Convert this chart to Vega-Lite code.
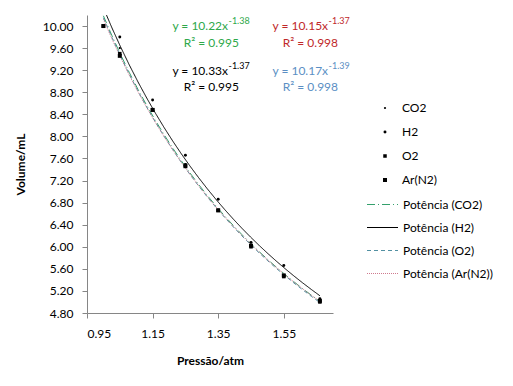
{
  "$schema": "https://vega.github.io/schema/vega-lite/v6.json",
  "width": 246,
  "height": 298,
  "autosize": {"type": "none"},
  "padding": {"left": 87, "top": 15, "right": 180, "bottom": 73},
  "background": "white",
  "config": {
    "view": {"stroke": null},
    "font": "Lato",
    "axis": {
      "grid": false,
      "domainColor": "#868686",
      "tickColor": "#868686",
      "tickSize": 5,
      "labelFont": "Lato",
      "labelFontSize": 12,
      "labelColor": "#000000",
      "labelOverlap": false,
      "titleFont": "Lato",
      "titleFontSize": 12,
      "titleFontWeight": "bold",
      "titleColor": "#000000"
    },
    "legend": {
      "labelFont": "Lato",
      "labelFontSize": 12,
      "labelColor": "#000000",
      "padding": 0
    }
  },
  "datasets": {
    "obs": [
      {"gas": "CO2", "fit": "Potência (CO2)", "pressure": 1.00, "volume": 10.00},
      {"gas": "CO2", "fit": "Potência (CO2)", "pressure": 1.05, "volume": 9.60},
      {"gas": "CO2", "fit": "Potência (CO2)", "pressure": 1.15, "volume": 8.50},
      {"gas": "CO2", "fit": "Potência (CO2)", "pressure": 1.25, "volume": 7.50},
      {"gas": "CO2", "fit": "Potência (CO2)", "pressure": 1.35, "volume": 6.66},
      {"gas": "CO2", "fit": "Potência (CO2)", "pressure": 1.45, "volume": 6.04},
      {"gas": "CO2", "fit": "Potência (CO2)", "pressure": 1.55, "volume": 5.46},
      {"gas": "CO2", "fit": "Potência (CO2)", "pressure": 1.66, "volume": 5.04},
      {"gas": "H2", "fit": "Potência (H2)", "pressure": 1.00, "volume": 10.00},
      {"gas": "H2", "fit": "Potência (H2)", "pressure": 1.05, "volume": 9.80},
      {"gas": "H2", "fit": "Potência (H2)", "pressure": 1.15, "volume": 8.66},
      {"gas": "H2", "fit": "Potência (H2)", "pressure": 1.25, "volume": 7.66},
      {"gas": "H2", "fit": "Potência (H2)", "pressure": 1.35, "volume": 6.86},
      {"gas": "H2", "fit": "Potência (H2)", "pressure": 1.45, "volume": 6.08},
      {"gas": "H2", "fit": "Potência (H2)", "pressure": 1.55, "volume": 5.66},
      {"gas": "H2", "fit": "Potência (H2)", "pressure": 1.66, "volume": 5.06},
      {"gas": "O2", "fit": "Potência (O2)", "pressure": 1.00, "volume": 10.00},
      {"gas": "O2", "fit": "Potência (O2)", "pressure": 1.05, "volume": 9.50},
      {"gas": "O2", "fit": "Potência (O2)", "pressure": 1.15, "volume": 8.48},
      {"gas": "O2", "fit": "Potência (O2)", "pressure": 1.25, "volume": 7.48},
      {"gas": "O2", "fit": "Potência (O2)", "pressure": 1.35, "volume": 6.66},
      {"gas": "O2", "fit": "Potência (O2)", "pressure": 1.45, "volume": 6.00},
      {"gas": "O2", "fit": "Potência (O2)", "pressure": 1.55, "volume": 5.46},
      {"gas": "O2", "fit": "Potência (O2)", "pressure": 1.66, "volume": 5.00},
      {"gas": "Ar(N2)", "fit": "Potência (Ar(N2))", "pressure": 1.00, "volume": 10.00},
      {"gas": "Ar(N2)", "fit": "Potência (Ar(N2))", "pressure": 1.05, "volume": 9.46},
      {"gas": "Ar(N2)", "fit": "Potência (Ar(N2))", "pressure": 1.15, "volume": 8.48},
      {"gas": "Ar(N2)", "fit": "Potência (Ar(N2))", "pressure": 1.25, "volume": 7.46},
      {"gas": "Ar(N2)", "fit": "Potência (Ar(N2))", "pressure": 1.35, "volume": 6.66},
      {"gas": "Ar(N2)", "fit": "Potência (Ar(N2))", "pressure": 1.45, "volume": 6.02},
      {"gas": "Ar(N2)", "fit": "Potência (Ar(N2))", "pressure": 1.55, "volume": 5.48},
      {"gas": "Ar(N2)", "fit": "Potência (Ar(N2))", "pressure": 1.66, "volume": 5.02}
    ],
    "notes": [
      {"series": "eq CO2", "part": "main", "text": "y = 10.22x", "pressure": 1.380, "volume": 10.00},
      {"series": "eq CO2", "part": "exp", "text": "-1.38", "pressure": 1.380, "volume": 10.00},
      {"series": "eq CO2", "part": "r2", "text": "R² = 0.995", "pressure": 1.329, "volume": 9.69},
      {"series": "eq Ar(N2)", "part": "main", "text": "y = 10.15x", "pressure": 1.685, "volume": 10.00},
      {"series": "eq Ar(N2)", "part": "exp", "text": "-1.37", "pressure": 1.685, "volume": 10.00},
      {"series": "eq Ar(N2)", "part": "r2", "text": "R² = 0.998", "pressure": 1.631, "volume": 9.69},
      {"series": "eq H2", "part": "main", "text": "y = 10.33x", "pressure": 1.380, "volume": 9.18},
      {"series": "eq H2", "part": "exp", "text": "-1.37", "pressure": 1.380, "volume": 9.18},
      {"series": "eq H2", "part": "r2", "text": "R² = 0.995", "pressure": 1.329, "volume": 8.90},
      {"series": "eq O2", "part": "main", "text": "y = 10.17x", "pressure": 1.685, "volume": 9.18},
      {"series": "eq O2", "part": "exp", "text": "-1.39", "pressure": 1.685, "volume": 9.18},
      {"series": "eq O2", "part": "r2", "text": "R² = 0.998", "pressure": 1.631, "volume": 8.90}
    ]
  },
  "encoding": {
    "x": {
      "field": "pressure", "type": "quantitative",
      "scale": {"domain": [0.95, 1.70], "nice": false, "zero": false},
      "axis": {"values": [0.95, 1.15, 1.35, 1.55], "format": ".2f", "title": "Pressão/atm", "labelPadding": 10, "titlePadding": 16, "labelOverlap": false}
    },
    "y": {
      "field": "volume", "type": "quantitative",
      "scale": {"domain": [4.8, 10.2], "nice": false, "zero": false},
      "axis": {"values": [4.8, 5.2, 5.6, 6.0, 6.4, 6.8, 7.2, 7.6, 8.0, 8.4, 8.8, 9.2, 9.6, 10.0], "format": ".2f", "title": "Volume/mL", "labelPadding": 9, "titlePadding": 15, "labelOverlap": false}
    }
  },
  "layer": [
    {
      "data": {"name": "obs"},
      "transform": [
        {"regression": "volume", "on": "pressure", "groupby": ["fit"], "method": "pow"}
      ],
      "mark": {"type": "line", "strokeWidth": 1, "clip": true},
      "encoding": {
        "color": {
          "field": "fit", "type": "nominal",
          "scale": {
            "domain": ["Potência (CO2)", "Potência (H2)", "Potência (O2)", "Potência (Ar(N2))"],
            "range": ["#34a06c", "#000000", "#5290a2", "#cf7a8e"]
          },
          "legend": {
            "title": null, "orient": "none", "legendX": 279, "legendY": 173,
            "symbolType": "stroke", "symbolSize": 961, "symbolStrokeWidth": 1.2,
            "labelOffset": 4, "rowPadding": -6
          }
        },
        "strokeDash": {
          "field": "fit", "type": "nominal",
          "scale": {
            "domain": ["Potência (CO2)", "Potência (H2)", "Potência (O2)", "Potência (Ar(N2))"],
            "range": [[8, 3, 1, 3], [1, 0], [4, 3], [1, 1]]
          },
          "legend": {
            "title": null, "orient": "none", "legendX": 279, "legendY": 173,
            "symbolType": "stroke", "symbolSize": 961, "symbolStrokeWidth": 1.2,
            "labelOffset": 4, "rowPadding": -6
          }
        }
      }
    },
    {
      "data": {"name": "obs"},
      "mark": {"type": "point", "filled": true, "color": "#000000", "opacity": 1},
      "encoding": {
        "shape": {
          "field": "gas", "type": "nominal",
          "scale": {"domain": ["CO2", "H2", "O2", "Ar(N2)"], "range": ["circle", "circle", "square", "square"]},
          "legend": {
            "title": null, "orient": "none", "legendX": 292, "legendY": 87,
            "labelOffset": 11, "rowPadding": 12, "symbolFillColor": "#000000", "symbolStrokeColor": "#000000"
          }
        },
        "size": {
          "field": "gas", "type": "nominal",
          "scale": {"domain": ["CO2", "H2", "O2", "Ar(N2)"], "range": [5, 16, 14, 18]},
          "legend": {
            "title": null, "orient": "none", "legendX": 292, "legendY": 87,
            "labelOffset": 11, "rowPadding": 12, "symbolFillColor": "#000000", "symbolStrokeColor": "#000000"
          }
        }
      }
    },
    {
      "data": {"name": "notes"},
      "transform": [{"filter": "datum.part == 'main'"}],
      "mark": {"type": "text", "align": "right", "baseline": "middle", "font": "Lato", "fontSize": 12},
      "encoding": {
        "text": {"field": "text"},
        "fill": {
          "field": "series", "type": "nominal",
          "scale": {"domain": ["eq CO2", "eq H2", "eq O2", "eq Ar(N2)"], "range": ["#2ea84a", "#000000", "#5b8fc4", "#c0282a"]},
          "legend": null
        }
      }
    },
    {
      "data": {"name": "notes"},
      "transform": [{"filter": "datum.part == 'exp'"}],
      "mark": {"type": "text", "align": "left", "baseline": "middle", "font": "Lato", "fontSize": 9, "dx": 0.5, "dy": -5},
      "encoding": {
        "text": {"field": "text"},
        "fill": {
          "field": "series", "type": "nominal",
          "scale": {"domain": ["eq CO2", "eq H2", "eq O2", "eq Ar(N2)"], "range": ["#2ea84a", "#000000", "#5b8fc4", "#c0282a"]},
          "legend": null
        }
      }
    },
    {
      "data": {"name": "notes"},
      "transform": [{"filter": "datum.part == 'r2'"}],
      "mark": {"type": "text", "align": "center", "baseline": "middle", "font": "Lato", "fontSize": 12},
      "encoding": {
        "text": {"field": "text"},
        "fill": {
          "field": "series", "type": "nominal",
          "scale": {"domain": ["eq CO2", "eq H2", "eq O2", "eq Ar(N2)"], "range": ["#2ea84a", "#000000", "#5b8fc4", "#c0282a"]},
          "legend": null
        }
      }
    }
  ]
}
